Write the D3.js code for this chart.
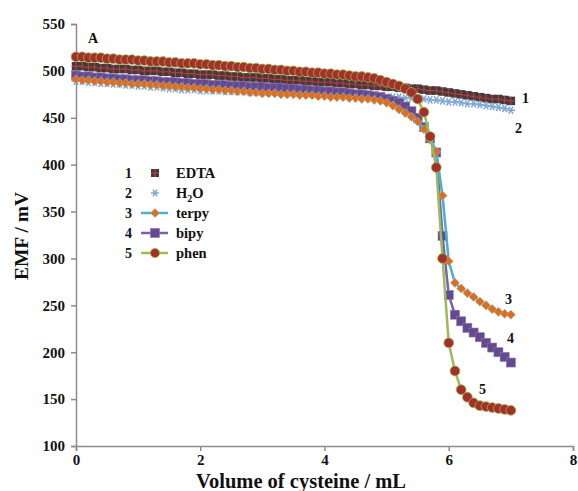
<!DOCTYPE html>
<html>
<head>
<meta charset="utf-8">
<script src="https://cdnjs.cloudflare.com/ajax/libs/d3/7.8.5/d3.min.js"></script>
<style>
  body { margin: 0; background: #fff; }
  svg text { font-family: "Liberation Serif", "Times New Roman", serif; font-weight: bold; fill: #111; }
  .axis path, .axis line { stroke: #8c8c8c; stroke-width: 1.5; }
</style>
</head>
<body>
<script>
//data
var volume = [0,0.1,0.2,0.3,0.4,0.5,0.6,0.7,0.8,0.9,
  1,1.1,1.2,1.3,1.4,1.5,1.6,1.7,1.8,1.9,
  2,2.1,2.2,2.3,2.4,2.5,2.6,2.7,2.8,2.9,
  3,3.1,3.2,3.3,3.4,3.5,3.6,3.7,3.8,3.9,
  4,4.1,4.2,4.3,4.4,4.5,4.6,4.7,4.8,4.9,
  5,5.1,5.2,5.3,5.4,5.5,5.6,5.7,5.8,5.9,
  6,6.1,6.2,6.3,6.4,6.5,6.6,6.7,6.8,6.9,7];

var edta = [505,505,504,504,503,503,502,502,502,501,
  501,500,500,500,499,499,498,498,497,497,
  496,496,496,495,495,494,494,493,493,493,
  492,492,491,491,490,490,490,489,489,488,
  488,488,487,487,486,486,485,485,484,484,
  483,483,482,482,481,481,480,479,479,478,
  477,476,475,474,473,472,471,470,470,469,468];

var water = [489,489,488,488,487,487,486,486,485,485,
  484,484,483,483,482,481,481,480,480,480,
  479,479,479,479,478,478,478,478,477,477,
  477,477,477,476,476,476,476,476,475,475,
  475,475,475,474,474,474,474,473,473,473,
  472,472,472,471,471,470,470,469,469,468,
  467,467,466,465,465,464,463,462,461,460,458];

var terpy = [491,490,490,489,489,488,488,487,487,486,
  486,486,485,485,484,484,483,483,482,482,
  481,481,480,480,479,479,478,478,477,477,
  476,476,476,475,475,475,474,474,474,473,
  473,472,472,472,471,471,470,470,469,468,
  466,463,459,455,451,446,438,427,414,367,
  297,274,268,263,259,254,250,246,243,241,240];

var bipy = [495,494,494,493,493,492,492,491,491,490,
  490,490,489,489,488,488,488,487,487,486,
  486,486,485,485,485,484,484,484,483,483,
  483,482,482,482,481,481,480,480,479,479,
  478,478,477,477,476,475,475,474,473,472,
  470,468,466,462,457,450,440,428,413,324,
  261,240,233,226,221,216,210,205,200,195,189];

var phen = [515,515,514,514,514,513,513,512,512,512,
  511,511,510,510,510,509,509,508,508,508,
  507,507,506,506,505,505,504,504,503,503,
  502,502,501,501,500,500,499,499,498,498,
  497,497,496,496,495,494,494,493,492,490,
  488,486,484,481,477,470,456,430,397,300,
  210,180,160,152,146,143,142,141,140,139,138];

var xTicks = [0, 2, 4, 6, 8];
var yTicks = [100, 150, 200, 250, 300, 350, 400, 450, 500, 550];

var width = 578, height = 491;
var x = d3.scaleLinear().domain([0, 8]).range([76, 573]);
var y = d3.scaleLinear().domain([100, 550]).range([446, 24]);

var svg = d3.select("body").append("svg")
  .attr("width", width)
  .attr("height", height);

//axes
var yAxis = svg.append("g")
  .attr("class", "axis")
  .attr("transform", "translate(76,0)")
  .call(d3.axisLeft(y).tickValues(yTicks).tickSize(5).tickPadding(6));
var xAxis = svg.append("g")
  .attr("class", "axis")
  .attr("transform", "translate(0,446)")
  .call(d3.axisBottom(x).tickValues(xTicks).tickSize(5).tickPadding(3));
svg.selectAll(".axis text").style("font-size", "15px").style("font-family", "Liberation Serif");

svg.append("text").attr("x", 301).attr("y", 488).attr("text-anchor", "middle")
  .style("font-size", "20.5px").text("Volume of cysteine / mL");
svg.append("text").attr("transform", "translate(28,236) rotate(-90)").attr("text-anchor", "middle")
  .style("font-size", "19.5px").text("EMF / mV");
svg.append("text").attr("x", 88).attr("y", 43).style("font-size", "14px").text("A");

function pts(vals) {
  return vals.map(function (v, i) { return [volume[i], v]; });
}
var line = d3.line().x(function (d) { return x(d[0]); }).y(function (d) { return y(d[1]); });

//marker helpers
function squareCross(g, cx, cy, s) {
  g.append("rect").attr("x", cx - s / 2).attr("y", cy - s / 2).attr("width", s).attr("height", s)
    .attr("fill", "#3d3d3d");
  g.append("path").attr("d", "M" + (cx - s / 2) + "," + cy + "H" + (cx + s / 2) + "M" + cx + "," + (cy - s / 2) + "V" + (cy + s / 2))
    .attr("stroke", "#d23a3a").attr("stroke-width", 1);
}
function asterisk(g, cx, cy, r) {
  var d = "";
  [0, 60, 120].forEach(function (a) {
    var dx = r * Math.cos(a * Math.PI / 180), dy = r * Math.sin(a * Math.PI / 180);
    d += "M" + (cx - dx) + "," + (cy - dy) + "L" + (cx + dx) + "," + (cy + dy);
  });
  g.append("path").attr("d", d).attr("stroke", "#7fa7d8").attr("stroke-width", 1.5).attr("fill", "none");
}
function diamond(g, cx, cy, r) {
  g.append("path").attr("d", "M" + cx + "," + (cy - r) + "L" + (cx + r) + "," + cy + "L" + cx + "," + (cy + r) + "L" + (cx - r) + "," + cy + "Z")
    .attr("fill", "#e36c1a").attr("stroke", "#7cc7d8").attr("stroke-width", 0.6);
}
function square(g, cx, cy, s) {
  g.append("rect").attr("x", cx - s / 2).attr("y", cy - s / 2).attr("width", s).attr("height", s)
    .attr("fill", "#634a8e").attr("stroke", "#8a74b0").attr("stroke-width", 0.6);
}
function circle(g, cx, cy, r) {
  g.append("circle").attr("cx", cx).attr("cy", cy).attr("r", r)
    .attr("fill", "#a3302a").attr("stroke", "#9bb64a").attr("stroke-width", 0.8);
}

//series 1 EDTA
var gE = svg.append("g");
gE.append("path").datum(pts(edta)).attr("d", line).attr("fill", "none").attr("stroke", "#d23a3a").attr("stroke-width", 1);
pts(edta).forEach(function (d) { squareCross(gE, x(d[0]), y(d[1]), 8.5); });

//series 2 H2O
var gW = svg.append("g");
pts(water).forEach(function (d) { asterisk(gW, x(d[0]), y(d[1]), 4.3); });

//series 4 bipy
var gB = svg.append("g");
gB.append("path").datum(pts(bipy)).attr("d", line).attr("fill", "none").attr("stroke", "#7b5fae").attr("stroke-width", 2.5);
pts(bipy).forEach(function (d) { square(gB, x(d[0]), y(d[1]), 9); });

//series 3 terpy
var gT = svg.append("g");
gT.append("path").datum(pts(terpy)).attr("d", line).attr("fill", "none").attr("stroke", "#45b0cf").attr("stroke-width", 2.5);
pts(terpy).forEach(function (d) { diamond(gT, x(d[0]), y(d[1]), 4.6); });

//series 5 phen
var gP = svg.append("g");
gP.append("path").datum(pts(phen)).attr("d", line).attr("fill", "none").attr("stroke", "#9bbb59").attr("stroke-width", 2.5);
pts(phen).forEach(function (d) { circle(gP, x(d[0]), y(d[1]), 4.9); });

//series number labels
var endLabels = [["1", 522, 103], ["2", 515, 133], ["3", 505, 304], ["4", 507, 343], ["5", 479, 394]];
endLabels.forEach(function (l) {
  svg.append("text").attr("x", l[1]).attr("y", l[2]).style("font-size", "14px").text(l[0]);
});

//legend
var legend = svg.append("g");
var rows = [173, 193, 213, 233, 253];
rows.forEach(function (ry, i) {
  legend.append("text").attr("x", 125).attr("y", ry + 5).style("font-size", "14px").text(String(i + 1));
});
squareCross(legend, 155, rows[0], 8);
asterisk(legend, 155, rows[1], 4);
legend.append("line").attr("x1", 141).attr("x2", 168).attr("y1", rows[2]).attr("y2", rows[2]).attr("stroke", "#45b0cf").attr("stroke-width", 2.5);
diamond(legend, 155, rows[2], 4.5);
legend.append("line").attr("x1", 141).attr("x2", 168).attr("y1", rows[3]).attr("y2", rows[3]).attr("stroke", "#7b5fae").attr("stroke-width", 2.5);
square(legend, 155, rows[3], 9);
legend.append("line").attr("x1", 141).attr("x2", 168).attr("y1", rows[4]).attr("y2", rows[4]).attr("stroke", "#9bbb59").attr("stroke-width", 2.5);
circle(legend, 155, rows[4], 4.6);

var names = ["EDTA", "H2O", "terpy", "bipy", "phen"];
names.forEach(function (n, i) {
  var t = legend.append("text").attr("x", 176).attr("y", rows[i] + 5).style("font-size", "14.5px");
  if (n === "H2O") {
    t.append("tspan").text("H");
    t.append("tspan").attr("dy", 4).style("font-size", "10px").text("2");
    t.append("tspan").attr("dy", -4).text("O");
  } else {
    t.text(n);
  }
});
</script>
</body>
</html>
